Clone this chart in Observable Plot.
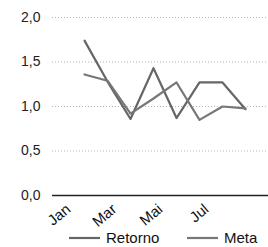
<!DOCTYPE html>
<html><head><meta charset="utf-8">
<script src="https://cdn.jsdelivr.net/npm/d3@7"></script>
<script src="https://cdn.jsdelivr.net/npm/@observablehq/plot@0.6"></script>
<style>
body{margin:0;background:#fff;font-family:"Liberation Sans",Arial,sans-serif;}
#legend{position:relative;width:268px;height:17px;}
</style></head>
<body><div id="chart"></div><div id="legend"></div>
<script>
const months = ["Jan","Fev","Mar","Abr","Mai","Jun","Jul","Ago"];
const retorno = [1.74,1.28,0.86,1.43,0.87,1.27,1.27,0.97];
const meta = [1.36,1.29,0.92,1.09,1.27,0.85,1.00,0.98];
const yTicks = [0,0.5,1,1.5,2];
const xTickLabels = ["Jan","Mar","Mai","Jul"];
const seriesNames = ["Retorno","Meta"];
const seriesColors = ["#666666","#777777"];

const data = [];
months.forEach((m,i)=>{ data.push({month:m, value:retorno[i], series:seriesNames[0]}); data.push({month:m, value:meta[i], series:seriesNames[1]}); });
const fmt = d => d3.format(".1f")(d).replace(".", ",");

const plot = Plot.plot({
  width: 268, height: 230,
  marginLeft: 52, marginRight: 0, marginTop: 17, marginBottom: 35,
  style: {fontFamily: '"Liberation Sans", Arial, sans-serif', fontSize: "13px", color: "#222", background: "#fff"},
  x: {type: "point", domain: months, range: [71, 257], axis: null},
  y: {domain: [0, 2], axis: null},
  color: {domain: seriesNames, range: seriesColors},
  marks: [
    Plot.ruleY(yTicks.filter(d => d > 0), {stroke: "#b5b5b5", strokeDasharray: "1,2", strokeWidth: 1}),
    Plot.ruleY([0], {stroke: "#222", strokeWidth: 1.6}),
    Plot.line(data, {x: "month", y: "value", z: "series", stroke: "series", strokeWidth: 2.2}),
    Plot.text(yTicks, {x: null, y: d => d, text: fmt, frameAnchor: "left", dx: -12, textAnchor: "end", fontSize: 14, fill: "#222"}),
    Plot.text(xTickLabels, {x: d => d, text: d => d, frameAnchor: "bottom", dx: -12.9, dy: 15.3, rotate: -40, textAnchor: "end", fontSize: 15, fill: "#111"})
  ]
});
document.getElementById("chart").appendChild(plot);

const lg = d3.select("#legend").append("svg").attr("width", 268).attr("height", 17);
const items = [{x1: 69, x2: 100, tx: 106}, {x1: 187, x2: 218, tx: 224}];
seriesNames.forEach((s,i)=>{
  lg.append("line").attr("x1", items[i].x1).attr("x2", items[i].x2).attr("y1", 8).attr("y2", 8)
    .attr("stroke", seriesColors[i]).attr("stroke-width", 2.2);
  lg.append("text").attr("x", items[i].tx).attr("y", 13).text(s)
    .attr("font-size", 15).attr("fill", "#111").attr("font-family", '"Liberation Sans", Arial, sans-serif');
});
</script></body></html>
